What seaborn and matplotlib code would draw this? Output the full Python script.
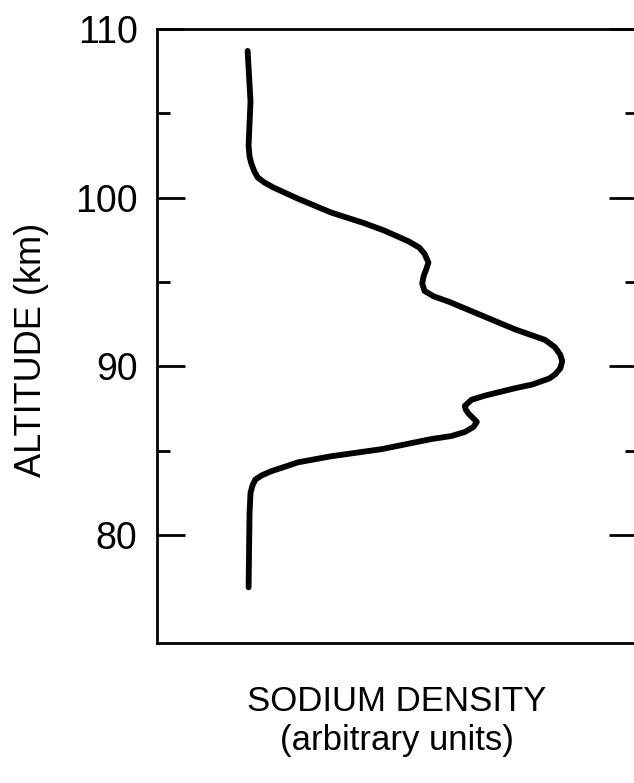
import numpy as np
import pandas as pd
import matplotlib
matplotlib.use("Agg")
import matplotlib.pyplot as plt
import seaborn as sns

# sodium density (arbitrary units) vs altitude (km)
altitude = [108.7, 105.7, 103.1, 102.44, 102.0, 101.56, 101.2, 100.9, 100.6,
            99.94, 99.12, 98.49, 98.05, 97.42, 97.04, 96.67, 96.16, 95.79,
            95.35, 94.91, 94.47, 94.15, 93.84, 93.02, 92.2, 91.57, 91.13,
            90.69, 90.3, 89.88, 89.52, 89.28, 88.92, 88.7, 88.26, 88.02,
            87.66, 87.43, 87.19, 86.71, 86.41, 86.11, 85.87, 85.69, 85.09,
            84.67, 84.31, 83.77, 83.53, 83.29, 82.93, 82.5, 81.3, 76.9]
density = [18.9, 19.5, 19.1, 19.3, 19.7, 20.3, 21.0, 22.4, 24.3,
           29.4, 36.3, 43.2, 47.4, 52.4, 54.7, 55.8, 56.6, 56.2,
           55.6, 55.3, 55.8, 57.7, 60.8, 67.7, 74.6, 80.9, 83.0,
           84.1, 84.5, 84.1, 83.0, 81.8, 78.2, 74.6, 68.3, 65.6,
           64.2, 64.4, 65.0, 66.7, 66.0, 64.2, 61.4, 57.2, 46.8,
           36.3, 29.4, 23.7, 21.8, 20.5, 19.9, 19.5, 19.3, 19.1]

major_ticks = [80, 90, 100, 110]
minor_ticks = [85, 95, 105]

df = pd.DataFrame({"density": density, "altitude": altitude})

sns.set_style("white")
plt.rcParams["font.family"] = ["Liberation Sans", "DejaVu Sans"]
plt.rcParams["text.color"] = "black"
plt.rcParams["axes.labelcolor"] = "black"
plt.rcParams["ytick.color"] = "black"

fig = plt.figure(figsize=(6.34, 7.83), dpi=100)
ax = fig.add_axes([157 / 634, 1 - 643 / 783, 1.004 - 157 / 634, (643 - 29) / 783])

sns.lineplot(data=df, x="density", y="altitude", sort=False, estimator=None,
             color="black", linewidth=4.2, ax=ax,
             solid_capstyle="round", solid_joinstyle="round")

ax.set_xlim(0, 100)
ax.set_ylim(73.6, 110)
ax.set_xticks([])
ax.set_yticks(major_ticks)
ax.set_yticks(minor_ticks, minor=True)
ax.set_yticklabels([str(t) for t in major_ticks])

ax.tick_params(axis="y", which="major", direction="in", length=20, width=2,
               left=True, right=True, labelsize=27, pad=14, color="black",
               labelcolor="black")
ax.tick_params(axis="y", which="minor", direction="in", length=9, width=2,
               left=True, right=True, color="black")

for side in ["left", "top", "right", "bottom"]:
    ax.spines[side].set_color("black")
    ax.spines[side].set_linewidth(2)

ax.set_ylabel("ALTITUDE (km)", fontsize=26)
ax.yaxis.set_label_coords(-0.225, 0.477)
ax.set_xlabel("SODIUM DENSITY\n(arbitrary units)", fontsize=25, labelpad=30,
              linespacing=1.25)

fig.savefig("out.png", dpi=100)
